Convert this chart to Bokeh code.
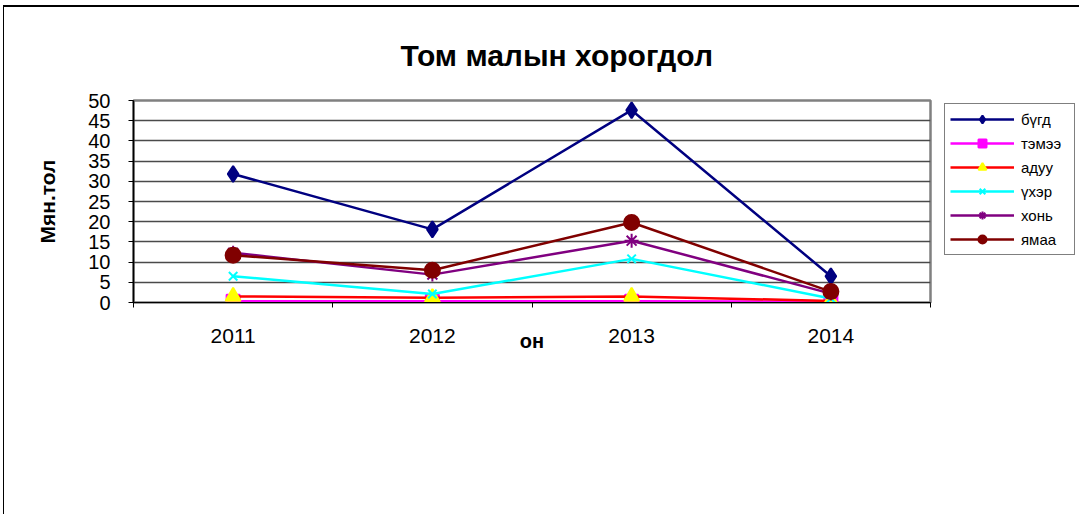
from bokeh.plotting import figure
from bokeh.models import Range1d, FixedTicker, Legend, LegendItem
from bokeh.embed import file_html
from bokeh.resources import INLINE

years = ["2011", "2012", "2013", "2014"]
names = ["бүгд", "тэмээ", "адуу", "үхэр", "хонь", "ямаа"]
bugd = [31.8, 18.1, 47.6, 6.5]
temee = [0.3, 0.3, 0.3, 0.2]
aduu = [1.5, 1.2, 1.5, 0.4]
ukher = [6.5, 2.1, 10.8, 1.0]
khoni = [12.3, 6.9, 15.3, 2.2]
yamaa = [11.7, 8.0, 19.8, 2.7]
y_ticks = [0, 5, 10, 15, 20, 25, 30, 35, 40, 45, 50]

FONT = "Liberation Sans"
xs = [i + 1 for i in range(len(years))]

# canvas starts at page (4, 7) because of margin + border
p = figure(frame_width=797, frame_height=202, output_backend="svg", toolbar_location=None,
           x_range=Range1d(0.5, len(years) + 0.5), y_range=Range1d(0, 50),
           min_border_left=129, min_border_right=149, min_border_top=93,
           min_border_bottom=212)
p.styles = {"margin-top": "5px", "margin-left": "3px",
            "border-top": "2px solid #000", "border-left": "1px solid #000"}

p.outline_line_color = "#808080"
p.outline_line_width = 2.5
p.background_fill_color = "white"

# title
p.title.text = "Том малын хорогдол"
p.title.align = "left"
p.title.vertical_align = "top"
p.title.offset = 267
p.title.standoff = 53
p.title.text_font = FONT
p.title.text_font_size = "30px"
p.title.text_font_style = "bold"
p.title.text_color = "black"

# x axis
p.xaxis.ticker = FixedTicker(ticks=xs, minor_ticks=[x - 0.5 for x in xs] + [xs[-1] + 0.5])
p.xaxis.major_label_overrides = {x: y for x, y in zip(xs, years)}
p.xaxis.major_tick_out = 0
p.xaxis.major_tick_in = 0
p.xaxis.minor_tick_out = 5
p.xaxis.minor_tick_in = 0
p.xaxis.minor_tick_line_color = "black"
p.xaxis.axis_line_color = "black"
p.xaxis.axis_line_width = 1.2
p.xaxis.major_label_standoff = 21
p.xaxis.major_label_text_font = FONT
p.xaxis.major_label_text_font_size = "21px"
p.xaxis.major_label_text_color = "black"
p.xaxis.axis_label = "он"
p.xaxis.axis_label_standoff = -16
p.xaxis.axis_label_text_font = FONT
p.xaxis.axis_label_text_font_size = "20px"
p.xaxis.axis_label_text_font_style = "bold"
p.xaxis.axis_label_text_color = "black"
p.xgrid.visible = False

# y axis
p.yaxis.ticker = FixedTicker(ticks=y_ticks)
p.yaxis.major_tick_out = 5
p.yaxis.major_tick_in = 0
p.yaxis.minor_tick_line_color = None
p.yaxis.axis_line_color = "black"
p.yaxis.axis_line_width = 1.5
p.yaxis.major_tick_line_color = "black"
p.yaxis.major_label_standoff = 18
p.yaxis.major_label_text_font = FONT
p.yaxis.major_label_text_font_size = "20px"
p.yaxis.major_label_text_color = "black"
p.yaxis.axis_label = "Мян.тол"
p.yaxis.axis_label_standoff = 26
p.yaxis.axis_label_text_font = FONT
p.yaxis.axis_label_text_font_size = "21px"
p.yaxis.axis_label_text_font_style = "bold"
p.yaxis.axis_label_text_color = "black"
p.ygrid.ticker = FixedTicker(ticks=y_ticks)
p.ygrid.grid_line_color = "#4a4a4a"
p.ygrid.grid_line_width = 1.5

series = [bugd, temee, aduu, ukher, khoni, yamaa]
line_colors = ["#000080", "#FF00FF", "#FF0000", "#00FFFF", "#800080", "#800000"]
marker_fill = ["#000080", "#FF00FF", "#FFFF00", "#00FFFF", "#800080", "#800000"]
markers = ["diamond", "square", "triangle", "x", "asterisk", "circle"]
sizes = [16, 13, 15, 12, 14, 15]

items = []
for name, vals, lc, mf, mk, sz in zip(names, series, line_colors, marker_fill, markers, sizes):
    r1 = p.line(xs, vals, line_color=lc, line_width=2.5)
    r2 = p.scatter(xs, vals, marker=mk, size=sz, fill_color=mf, line_color=mf, line_width=2)
    items.append(LegendItem(label=name, renderers=[r1, r2]))

legend = Legend(items=items, location=(14, 47), orientation="vertical",
                border_line_color="black", border_line_width=1,
                background_fill_color="white", background_fill_alpha=1,
                padding=5, spacing=4, glyph_height=20, glyph_width=64,
                label_height=20, label_standoff=7, label_width=48,
                label_text_font=FONT, label_text_font_size="15px",
                label_text_color="black", margin=0)
p.add_layout(legend, "right")

open("out.html", "w").write(file_html(p, INLINE))
